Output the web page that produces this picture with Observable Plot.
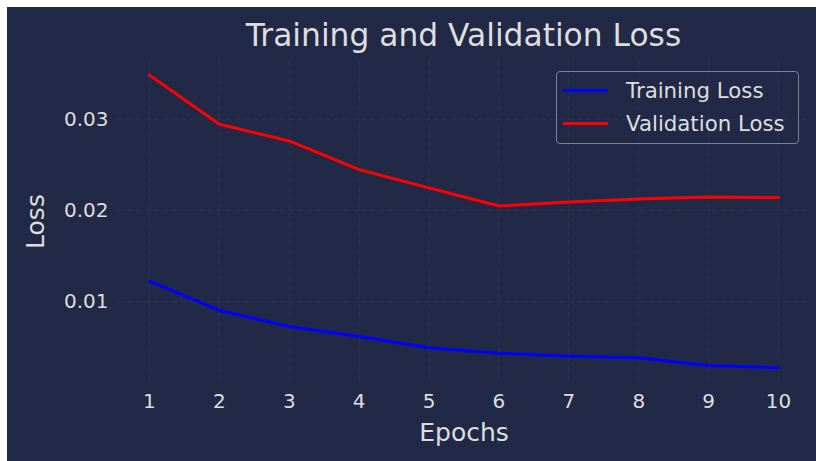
<!DOCTYPE html>
<html>
<head>
<meta charset="utf-8">
<script src="https://cdn.jsdelivr.net/npm/d3@7"></script>
<script src="https://cdn.jsdelivr.net/npm/@observablehq/plot@0.6"></script>
<style>
  html, body { margin: 0; padding: 0; background: #ffffff; }
  body { width: 816px; height: 461px; position: relative; overflow: hidden; font-family: "DejaVu Sans", sans-serif; }
  #panel { position: absolute; left: 7px; top: 7px; width: 809px; height: 454px; background: #212946; }
  #title { position: absolute; left: 0; width: 927px; top: 20px; text-align: center; font-size: 31.3px; color: #dedede; white-space: nowrap; line-height: 1; }
  #legend { position: absolute; left: 556px; top: 71px; width: 243px; height: 73px; border: 1px solid #7c8194; border-radius: 4px; box-sizing: border-box; }
  .swatch { position: absolute; left: 6px; width: 45px; height: 3px; }
  .lab { position: absolute; left: 69px; font-size: 21.3px; color: #dedede; white-space: nowrap; line-height: 1; }
</style>
</head>
<body>
<div id="panel"></div>
<div id="title"></div>
<div id="legend"></div>
<script>
const epochs = [1, 2, 3, 4, 5, 6, 7, 8, 9, 10];
const trainingLoss = [0.01223, 0.00901, 0.00725, 0.00615, 0.00491, 0.00432, 0.00399, 0.00381, 0.00297, 0.00271];
const validationLoss = [0.03484, 0.02945, 0.02762, 0.02447, 0.02247, 0.02047, 0.02091, 0.02124, 0.02146, 0.02140];
const seriesNames = ["Training Loss", "Validation Loss"];
const seriesColors = ["#0000ff", "#ff0000"];
const xTicks = [1, 2, 3, 4, 5, 6, 7, 8, 9, 10];
const yTicks = [0.01, 0.02, 0.03];
const titleText = "Training and Validation Loss";
const xLabel = "Epochs";
const yLabel = "Loss";

const rows = [];
epochs.forEach((e, i) => {
  rows.push({epoch: e, loss: trainingLoss[i], series: seriesNames[0]});
});
epochs.forEach((e, i) => {
  rows.push({epoch: e, loss: validationLoss[i], series: seriesNames[1]});
});

const allVals = trainingLoss.concat(validationLoss);
const yMin = d3.min(allVals), yMax = d3.max(allVals);
const yPad = (yMax - yMin) * 0.05;
const xPad = (d3.max(epochs) - d3.min(epochs)) * 0.05;

const textColor = "#dedede";
const gridColor = "#2A3459";

const chart = Plot.plot({
  width: 809,
  height: 454,
  marginLeft: 110.5,
  marginRight: 6.5,
  marginTop: 53,
  marginBottom: 79,
  style: { background: "transparent", color: textColor, fontFamily: "DejaVu Sans, sans-serif", fontSize: "20px", overflow: "visible" },
  x: { domain: [d3.min(epochs) - xPad, d3.max(epochs) + xPad], ticks: xTicks, tickFormat: d => String(d) },
  y: { domain: [yMin - yPad, yMax + yPad], ticks: yTicks, tickFormat: d => d.toFixed(2) },
  color: { domain: seriesNames, range: seriesColors },
  marks: [
    Plot.gridX(xTicks, { stroke: gridColor, strokeOpacity: 1, strokeWidth: 1, strokeDasharray: "6,3" }),
    Plot.gridY(yTicks, { stroke: gridColor, strokeOpacity: 1, strokeWidth: 1, strokeDasharray: "6,3" }),
    Plot.axisX(xTicks, { tickSize: 0, tickPadding: 11, fontSize: 20, fill: textColor, label: xLabel, labelAnchor: "center", labelArrow: "none", labelOffset: 58 }),
    Plot.axisY(yTicks, { tickSize: 0, tickPadding: 9.5, fontSize: 20, fill: textColor, tickFormat: d => d.toFixed(2), label: yLabel, labelAnchor: "center", labelArrow: "none", labelOffset: 92 }),
    Plot.line(rows, { x: "epoch", y: "loss", z: "series", stroke: "series", strokeWidth: 3, strokeLinejoin: "round" })
  ]
});
chart.querySelectorAll("g[aria-label='x-axis label'] text, g[aria-label='y-axis label'] text").forEach(t => { t.setAttribute("font-size", 25); });
document.getElementById("panel").appendChild(chart);

document.getElementById("title").textContent = titleText;
const legend = document.getElementById("legend");
const rowCenters = [18, 51]; // inner-legend y of each row's centre
seriesNames.forEach((name, i) => {
  const sw = document.createElement("div");
  sw.className = "swatch";
  sw.style.background = seriesColors[i];
  sw.style.top = (rowCenters[i] - 1.5) + "px";
  const lab = document.createElement("div");
  lab.className = "lab";
  lab.textContent = name;
  lab.style.top = (rowCenters[i] - 10.3) + "px";
  legend.appendChild(sw);
  legend.appendChild(lab);
});
</script>
</body>
</html>
